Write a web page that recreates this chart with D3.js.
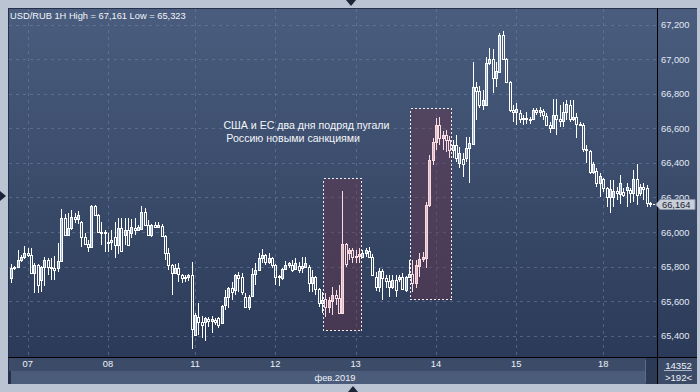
<!DOCTYPE html>
<html>
<head>
<meta charset="utf-8">
<script src="https://cdn.jsdelivr.net/npm/d3@7"></script>
<style>
body { margin: 0; background: #bac4d3; }
svg { display: block; font-family: "Liberation Sans", Arial, sans-serif; }
</style>
</head>
<body>
<svg id="chart" width="700" height="392"></svg>
<script>
// USD/RUB hourly candles, 07-18 Feb 2019
const open = [
  65734,65792,65797,65837,65855,65878,65866,65763,65808,65722,
  65797,65837,65797,65792,65792,65832,66081,65982,66023,66087,
  66075,66058,65971,65930,65913,66150,66098,66000,65994,65936,
  65942,65971,65924,66023,65982,66011,65994,66023,66011,66017,
  66115,66040,65982,66040,66029,66034,65977,65878,65808,65763,
  65792,65751,65734,65739,65751,65403,65508,65479,65479,65496,
  65484,65490,65502,65473,65577,65623,65676,65664,65751,65739,
  65623,65566,65629,65757,65780,65849,65866,65826,65849,65808,
  65739,65734,65786,65808,65808,65786,65802,65792,65797,65797,
  65705,65739,65670,65589,65612,65566,65600,65635,65618,65531,
  65930,65878,65895,65855,65860,65855,65878,65890,65855,65739,
  65681,65774,65734,65716,65681,65722,65728,65739,65664,65739,
  65757,65705,65802,65843,65849,66156,66417,66521,66619,66544,
  66561,66532,66474,66503,66399,66422,66428,66486,66509,66839,
  66816,66735,66735,66978,67001,66891,66926,67140,67001,66868,
  66706,66694,66689,66654,66660,66654,66654,66706,66694,66700,
  66671,66619,66602,66677,66654,66642,66694,66735,66654,66666,
  66625,66619,66480,66469,66347,66353,66283,66307,66254,66202,
  66202,66237,66220,66231,66243,66243,66226,66307,66226,66260,
  66254,66168
];
const high = [
  65814,65802,65895,65866,65918,65907,65907,65820,65814,65802,
  65855,65849,65849,65860,65936,66133,66104,66110,66127,66110,
  66121,66063,65994,65953,66156,66156,66104,66058,66011,65994,
  66011,66058,66081,66081,66081,66081,66075,66081,66040,66150,
  66139,66069,66046,66058,66058,66046,65982,65907,65814,65814,
  65820,65757,65751,65757,65826,65531,65589,65513,65508,65508,
  65513,65502,65508,65577,65664,65681,65710,65757,65768,65763,
  65647,65635,65792,65820,65878,65901,65872,65878,65855,65814,
  65751,65792,65832,65826,65837,65849,65826,65855,65855,65808,
  65780,65745,65676,65653,65647,65623,65681,65664,65693,66237,
  65936,65907,65907,65895,65907,65895,65907,65913,65872,65768,
  65792,65786,65751,65751,65751,65751,65751,65763,65745,65837,
  65837,65837,65878,65884,66173,66445,66544,66660,66666,66584,
  66590,66555,66532,66561,66492,66457,66550,66550,66984,66868,
  66845,66822,67013,67065,67059,66984,67152,67161,67007,66874,
  66735,66747,66706,66677,66694,66666,66718,66718,66723,66712,
  66689,66637,66770,66770,66735,66752,66764,66764,66764,66689,
  66637,66631,66503,66474,66405,66370,66341,66312,66260,66301,
  66301,66260,66330,66254,66283,66254,66359,66394,66278,66283,
  66272,66173
];
const low = [
  65705,65780,65792,65826,65843,65855,65757,65647,65647,65653,
  65687,65751,65722,65722,65768,65826,65977,65977,66011,66052,
  66046,65913,65924,65884,65907,66092,65994,65924,65884,65884,
  65895,65849,65872,65884,65924,65918,65965,65982,66005,66011,
  66034,65977,65971,66023,66023,65971,65837,65780,65635,65757,
  65710,65705,65710,65716,65323,65398,65403,65386,65369,65450,
  65415,65461,65444,65467,65548,65560,65606,65635,65653,65635,
  65560,65548,65623,65693,65774,65820,65808,65814,65792,65693,
  65687,65722,65780,65792,65768,65780,65763,65763,65792,65653,
  65653,65635,65566,65531,65508,65531,65519,65577,65525,65525,
  65797,65837,65820,65820,65820,65849,65855,65849,65745,65658,
  65653,65606,65676,65623,65670,65623,65710,65664,65653,65734,
  65653,65676,65739,65826,65792,66144,66388,66474,66503,66474,
  66463,66428,66428,66405,66370,66318,66405,66283,66503,66648,
  66718,66706,66729,66967,66805,66839,66926,66996,66862,66694,
  66637,66619,66631,66619,66625,66625,66648,66677,66666,66648,
  66613,66573,66596,66561,66608,66608,66648,66637,66642,66544,
  66613,66463,66399,66336,66336,66260,66202,66231,66144,66110,
  66144,66185,66162,66202,66144,66168,66173,66156,66208,66185,
  66144,66144
];
const close = [
  65792,65797,65837,65855,65878,65866,65763,65808,65693,65797,
  65837,65797,65792,65780,65832,66081,65982,66023,66087,66075,
  66098,65971,65930,65913,66150,66098,66000,65994,66000,65942,
  65953,65924,66023,65890,66011,65924,66029,66011,66029,66115,
  66040,65982,66040,66029,66040,65977,65878,65808,65763,65792,
  65757,65734,65739,65751,65438,65519,65479,65461,65502,65484,
  65496,65479,65461,65571,65623,65676,65653,65751,65734,65653,
  65566,65623,65757,65780,65849,65866,65826,65849,65808,65739,
  65745,65786,65808,65820,65780,65820,65780,65802,65820,65705,
  65739,65670,65589,65606,65566,65606,65635,65618,65531,65930,
  65814,65895,65855,65860,65872,65878,65895,65855,65751,65681,
  65774,65734,65716,65681,65722,65664,65739,65670,65739,65757,
  65705,65808,65843,65855,66156,66417,66521,66619,66544,66561,
  66532,66474,66503,66428,66457,66394,66486,66515,66839,66816,
  66735,66764,66978,67001,66891,66932,67140,67001,66868,66706,
  66694,66712,66654,66660,66654,66648,66706,66694,66706,66677,
  66619,66602,66677,66654,66642,66694,66741,66654,66666,66625,
  66619,66480,66474,66347,66394,66283,66324,66254,66202,66249,
  66237,66226,66283,66214,66260,66226,66307,66214,66260,66249,
  66168,66164
];

const dayTicks = [5, 29, 55, 79, 103, 127, 151, 177];
const dayLabels = ["07", "08", "11", "12", "13", "14", "15", "18"];
const priceTicks = [65400, 65600, 65800, 66000, 66200, 66400, 66600, 66800, 67000, 67200];

// highlighted periods (candle index range and price range of the box)
const boxFrom = [94, 120];
const boxTo = [104, 131];
const boxTop = [66315, 66715];
const boxBottom = [65435, 65610];

const noteLines = ["США и ЕС два дня подряд пугали", " Россию новыми санкциями"];
const noteAt = {index: 64, price: 66594};

const title = "USD/RUB 1H High = 67,161 Low = 65,323";
const barsTotal = "14352";
const barsShown = ">192<";
const monthLabel = "фев.2019";

const svg = d3.select("#chart");
const fmt = d3.format(",");

const plotL = 9, plotR = 657, plotT = 9, plotB = 357;

const x = d3.scaleBand()
    .domain(d3.range(close.length))
    .range([9.3, 651.7]);
const y = d3.scaleLinear()
    .domain([65400, 67200])
    .range([335.7, 24.7]);
const cx = i => Math.round(x(i) + x.bandwidth() / 2);

// backgrounds
const defs = svg.append("defs");
const grad = defs.append("linearGradient")
    .attr("id", "bg").attr("x1", 0).attr("y1", 0).attr("x2", 0).attr("y2", 1);
grad.append("stop").attr("offset", "0%").attr("stop-color", "#4a5d7e");
grad.append("stop").attr("offset", "100%").attr("stop-color", "#2b3a58");

svg.append("rect").attr("width", 700).attr("height", 392).attr("fill", "#bac4d3");
svg.append("rect").attr("x", 8).attr("y", 8).attr("width", 689).attr("height", 376).attr("fill", "#25304a");
svg.append("rect").attr("x", plotL).attr("y", plotT).attr("width", plotR - plotL).attr("height", plotB - plotT).attr("fill", "url(#bg)");
svg.append("rect").attr("x", 658).attr("y", plotT).attr("width", 39).attr("height", plotB - plotT).attr("fill", "url(#bg)");

// bottom strip
svg.append("rect").attr("x", 9).attr("y", 358).attr("width", 648).attr("height", 13).attr("fill", "#3c4b68");
svg.append("rect").attr("x", 11).attr("y", 371).attr("width", 646).attr("height", 13).attr("fill", "#4b5c7a");
svg.append("rect").attr("x", 646).attr("y", 358).attr("width", 11).attr("height", 26).attr("fill", "#2d3a55");
svg.append("line").attr("x1", 645.5).attr("x2", 645.5).attr("y1", 360).attr("y2", 382).attr("stroke", "#5d6d89");
svg.append("rect").attr("x", 658).attr("y", 358).attr("width", 39).attr("height", 26).attr("fill", "#3b4a67");
svg.append("line").attr("x1", 664).attr("x2", 692).attr("y1", 370.5).attr("y2", 370.5).attr("stroke", "#a8b4c6");

// grid
const grid = svg.append("g")
    .attr("stroke", "#7084a6").attr("stroke-opacity", 0.55)
    .attr("stroke-dasharray", "3,4").attr("shape-rendering", "crispEdges");
grid.selectAll("line.h").data(priceTicks).join("line")
    .attr("class", "h")
    .attr("x1", plotL).attr("x2", plotR - 1)
    .attr("y1", d => Math.round(y(d)) + 0.5).attr("y2", d => Math.round(y(d)) + 0.5);
grid.selectAll("line.v").data(dayTicks).join("line")
    .attr("class", "v")
    .attr("x1", d => cx(d) + 0.5).attr("x2", d => cx(d) + 0.5)
    .attr("y1", plotT).attr("y2", plotB);

// highlight boxes
const boxes = d3.range(boxFrom.length);
svg.append("g").selectAll("rect").data(boxes).join("rect")
    .attr("x", k => Math.round(x(boxFrom[k]) - 1) + 0.5)
    .attr("width", k => Math.round(x(boxTo[k]) + x.bandwidth()) - Math.round(x(boxFrom[k]) - 1))
    .attr("y", k => Math.round(y(boxTop[k])) + 0.5)
    .attr("height", k => Math.round(y(boxBottom[k])) - Math.round(y(boxTop[k])))
    .attr("fill", "#6b3348").attr("fill-opacity", 0.42)
    .attr("stroke", "#eeeeee").attr("stroke-dasharray", "2,2")
    .attr("shape-rendering", "crispEdges");

// candles
const inBox = i => boxes.some(k => i >= boxFrom[k] && i <= boxTo[k]);
const candles = svg.append("g").attr("shape-rendering", "crispEdges");
close.forEach((c, i) => {
    const o = open[i];
    const col = inBox(i) ? "#f8dce2" : "#ffffff";
    const up = c > o;
    const top = Math.round(y(Math.max(o, c)));
    let bot = Math.round(y(Math.min(o, c)));
    if (bot <= top) bot = top + 1;
    const px = cx(i);
    const hy = Math.round(y(high[i]));
    const ly = Math.round(y(low[i]));
    if (hy < top) candles.append("line")
        .attr("x1", px + 0.5).attr("x2", px + 0.5).attr("y1", hy).attr("y2", top)
        .attr("stroke", col);
    if (ly > bot) candles.append("line")
        .attr("x1", px + 0.5).attr("x2", px + 0.5).attr("y1", bot + 1).attr("y2", ly)
        .attr("stroke", col);
    candles.append("rect")
        .attr("x", px - 0.5).attr("y", top + 0.5)
        .attr("width", 2).attr("height", bot - top)
        .attr("fill", up ? (inBox(i) ? "#dfb9c4" : "#9cb3d8") : "none")
        .attr("stroke", col);
});

// last price dashes
const last = close.length - 1;
const lastY = Math.round(y(close[last])) + 0.5;
svg.append("line")
    .attr("x1", cx(last) + 3).attr("x2", 657)
    .attr("y1", lastY).attr("y2", lastY)
    .attr("stroke", "#ffffff").attr("stroke-dasharray", "2,2");

// separators
svg.append("line").attr("x1", 657.5).attr("x2", 657.5).attr("y1", 8).attr("y2", 384).attr("stroke", "#000");
svg.append("line").attr("x1", 8).attr("x2", 697).attr("y1", 357.5).attr("y2", 357.5).attr("stroke", "#000");

// price axis
const yAxis = svg.append("g")
    .attr("transform", "translate(658,0)")
    .call(d3.axisRight(y).tickValues(priceTicks).tickFormat(fmt).tickSize(0).tickPadding(3));
yAxis.select(".domain").remove();
yAxis.selectAll("text")
    .attr("font-family", "Liberation Sans, Arial, sans-serif")
    .attr("font-size", "9.3px").attr("fill", "#e3eaf5");

// last price tag
svg.append("path")
    .attr("d", `M656,${lastY} L660,${lastY - 5} L695,${lastY - 5} L695,${lastY + 5} L660,${lastY + 5} Z`)
    .attr("fill", "#c8cfd9").attr("stroke", "#8a95a8");
svg.append("text")
    .attr("x", 662).attr("y", lastY + 3.5)
    .attr("font-size", "9.3px").attr("fill", "#1a2030")
    .text(fmt(close[last]));

// time axis
const xAxis = svg.append("g")
    .attr("transform", "translate(0,358)")
    .call(d3.axisBottom(x).tickValues(dayTicks)
        .tickFormat(d => dayLabels[dayTicks.indexOf(d)])
        .tickSize(0).tickPadding(2));
xAxis.select(".domain").remove();
xAxis.selectAll("text")
    .attr("font-family", "Liberation Sans, Arial, sans-serif")
    .attr("font-size", "9.3px").attr("fill", "#eef2f8");

svg.append("text")
    .attr("x", (plotL + plotR) / 2 + 2).attr("y", 380.5)
    .attr("text-anchor", "middle").attr("font-size", "9.3px").attr("fill", "#eef2f8")
    .text(monthLabel);
svg.append("text")
    .attr("x", 678.5).attr("y", 368.5)
    .attr("text-anchor", "middle").attr("font-size", "9.6px").attr("fill", "#eef2f8")
    .text(barsTotal);
svg.append("text")
    .attr("x", 678.5).attr("y", 380.8)
    .attr("text-anchor", "middle").attr("font-size", "9.6px").attr("fill", "#eef2f8")
    .text(barsShown);

// title
svg.append("text")
    .attr("x", 10).attr("y", 18.5)
    .attr("font-size", "9.3px").attr("fill", "#f2f5fa")
    .text(title);

// annotation
svg.append("g").selectAll("text").data(noteLines).join("text")
    .attr("x", x(noteAt.index))
    .attr("y", (d, k) => y(noteAt.price) + k * 13)
    .style("white-space", "pre")
    .attr("font-size", "10.6px").attr("fill", "#f4f6fa")
    .text(d => d);

// frame markers
const marker = svg.append("g").attr("fill", "#1c2538");
marker.append("path").attr("d", "M346,0 L356,0 L351,6 Z");
marker.append("path").attr("d", "M348,392 L358,392 L353,386 Z");
marker.append("path").attr("d", "M0,191 L0,201 L6,196 Z");
</script>
</body>
</html>
